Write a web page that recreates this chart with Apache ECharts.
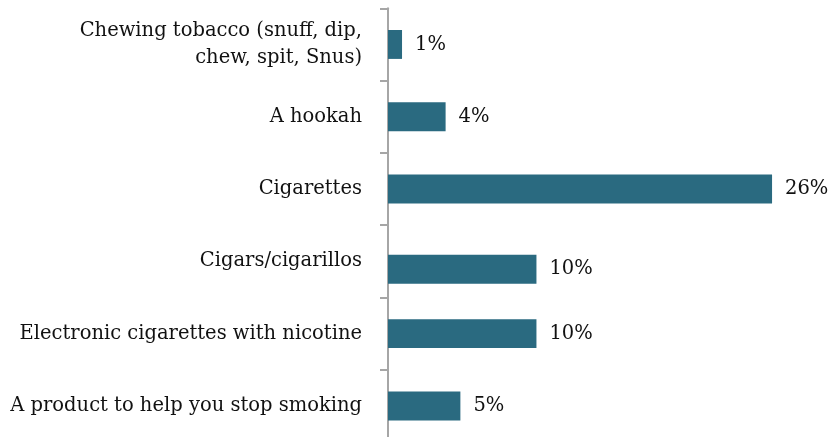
<!DOCTYPE html>
<html><head><meta charset="utf-8">
<script src="https://cdn.jsdelivr.net/npm/echarts@6/dist/echarts.min.js"></script>
<style>html,body{margin:0;padding:0;background:#fff;overflow:hidden}#c{width:830px;height:450px}</style>
</head><body><div id="c"></div>
<script>
const categories = [
  "Chewing tobacco (snuff, dip,\nchew, spit, Snus)",
  "A hookah",
  "Cigarettes",
  "Cigars/cigarillos",
  "Electronic cigarettes with nicotine",
  "A product to help you stop smoking"
];
const values = [0.95, 3.9, 26, 10.05, 10.05, 4.9];
const valueLabels = ["1%", "4%", "26%", "10%", "10%", "5%"];
// In the reference the "Cigars/cigarillos" bar sits a little below its band centre
const shiftedCategory = "Cigars/cigarillos";

const FONT = "DejaVu Serif";
const shiftedIdx = categories.indexOf(shiftedCategory);
const mainData = values.map((v, i) => i === shiftedIdx ? '-' : v);
const shiftedData = values.map((v, i) => i === shiftedIdx ? v : '-');

const labelCfg = {
  show: true, position: 'right', distance: 13,
  color: '#111111', fontFamily: FONT, fontSize: 19.5,
  formatter: p => valueLabels[p.dataIndex]
};

const chart = echarts.init(document.getElementById('c'), null, {renderer: 'canvas'});
chart.setOption({
  animation: false,
  grid: [
    {left: 388, width: 413.6, top: 8.3, height: 433.8, containLabel: false},
    {left: 388, width: 413.6, top: 16.3, height: 433.8, containLabel: false}
  ],
  xAxis: [
    {gridIndex: 0, type: 'value', min: 0, max: 28, show: false},
    {gridIndex: 1, type: 'value', min: 0, max: 28, show: false}
  ],
  yAxis: [
    {
      gridIndex: 0, type: 'category', inverse: true, data: categories,
      axisLine: {show: true, lineStyle: {color: '#a6a6a6', width: 2}},
      axisTick: {show: true, length: 8, lineStyle: {color: '#a6a6a6', width: 2}},
      axisLabel: {margin: 26, color: '#111111', fontFamily: FONT, fontSize: 19.5, lineHeight: 27, align: 'right'},
      splitLine: {show: false}
    },
    {gridIndex: 1, type: 'category', inverse: true, data: categories, show: false}
  ],
  series: [
    {
      type: 'bar', xAxisIndex: 0, yAxisIndex: 0, data: mainData, barWidth: '40%',
      itemStyle: {color: '#2a6a80'}, label: labelCfg, z: 2
    },
    {
      type: 'bar', xAxisIndex: 1, yAxisIndex: 1, data: shiftedData, barWidth: '40%',
      itemStyle: {color: '#2a6a80'}, label: labelCfg, z: 2
    }
  ]
});
</script></body></html>
